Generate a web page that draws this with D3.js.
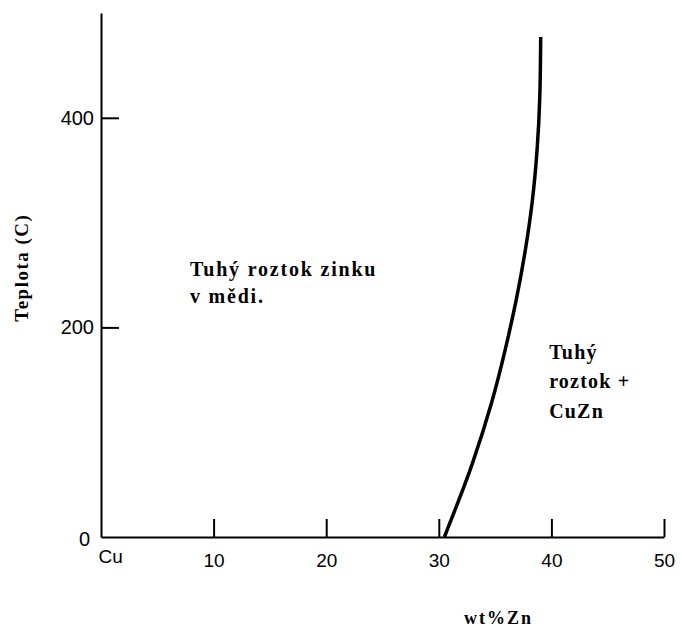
<!DOCTYPE html>
<html>
<head>
<meta charset="utf-8">
<script src="https://cdn.jsdelivr.net/npm/d3@7"></script>
<style>
  body { margin: 0; background: #fff; }
  svg { display: block; }
</style>
</head>
<body>
<div id="chart"></div>
<script>
// Data
const xTicks = [0, 10, 20, 30, 40, 50];
const xTickLabels = ['Cu', '10', '20', '30', '40', '50'];
const yTicks = [0, 200, 400];

// solvus line (wt% Zn, temperature C)
const solvusZn = [30.5, 31.7, 32.9, 34.8, 35.9, 36.9, 37.7, 38.35, 38.75, 39.0, 39.05];
const solvusT = [0, 33, 66, 130, 178, 226, 273, 321, 369, 417, 477];

const leftLabel = ['Tuhý roztok zinku', 'v mědi.'];
const rightLabel = ['Tuhý', 'roztok +', 'CuZn'];

const width = 682;
const height = 630;
const margin = { t: 13, r: 18, b: 93, l: 101 };

const serif = 'Liberation Serif, Times New Roman, serif';
const sans = 'Liberation Sans, Arial, sans-serif';

const svg = d3
  .select('#chart')
  .append('svg')
  .attr('width', width)
  .attr('height', height);

const x = d3.scaleLinear().domain([0, 50]).range([margin.l, width - margin.r]);
const y = d3.scaleLinear().domain([0, 500]).range([height - margin.b, margin.t]);

// axes
const xAxis = d3
  .axisBottom(x)
  .tickValues(xTicks)
  .tickSize(-18)
  .tickSizeOuter(0)
  .tickPadding(17)
  .tickFormat((d, i) => xTickLabels[i]);

svg
  .append('g')
  .attr('transform', `translate(0,${y(0)})`)
  .call(xAxis)
  .call((g) => g.select('.domain').attr('stroke-width', 2))
  .call((g) => g.selectAll('.tick line').attr('stroke-width', 2))
  .call((g) => g.selectAll('.tick text')
    .attr('font-family', sans)
    .attr('font-size', 19)
    .attr('fill', '#000'))
  .call((g) => g.selectAll('.tick').filter((d) => d === 0).select('line').remove())
  .call((g) => g.selectAll('.tick').filter((d) => d === 0).select('text')
    .attr('text-anchor', 'start')
    .attr('x', -3)
    .attr('y', 13));

const yAxis = d3
  .axisLeft(y)
  .tickValues(yTicks)
  .tickSize(-18)
  .tickSizeOuter(0)
  .tickPadding(7);

svg
  .append('g')
  .attr('transform', `translate(${x(0)},0)`)
  .call(yAxis)
  .call((g) => g.select('.domain').attr('stroke-width', 2))
  .call((g) => g.selectAll('.tick line').attr('stroke-width', 2))
  .call((g) => g.selectAll('.tick text')
    .attr('font-family', sans)
    .attr('font-size', 20)
    .attr('fill', '#000'))
  .call((g) => g.selectAll('.tick').filter((d) => d === 0).select('line').remove())
  .call((g) => g.selectAll('.tick').filter((d) => d === 0).select('text')
    .attr('x', -11)
    .attr('y', 2));

// solvus curve
const line = d3
  .line()
  .x((d) => x(d[0]))
  .y((d) => y(d[1]))
  .curve(d3.curveBasis);

svg
  .append('path')
  .datum(solvusZn.map((v, i) => [v, solvusT[i]]))
  .attr('d', line)
  .attr('fill', 'none')
  .attr('stroke', '#000')
  .attr('stroke-width', 3.5);

// axis titles
svg
  .append('text')
  .attr('transform', `translate(28,${y(257)}) rotate(-90)`)
  .attr('text-anchor', 'middle')
  .attr('font-family', serif)
  .attr('font-weight', 'bold')
  .attr('font-size', 19)
  .attr('letter-spacing', 1.5)
  .text('Teplota (C)');

svg
  .append('text')
  .attr('x', x(35.3))
  .attr('y', 624)
  .attr('text-anchor', 'middle')
  .attr('font-family', serif)
  .attr('font-weight', 'bold')
  .attr('font-size', 18)
  .attr('letter-spacing', 2)
  .text('wt%Zn');

// region labels
svg
  .append('g')
  .selectAll('text')
  .data(leftLabel)
  .join('text')
  .attr('x', x(7.9))
  .attr('y', (d, i) => y(249) + i * 27)
  .attr('font-family', serif)
  .attr('font-weight', 'bold')
  .attr('font-size', 20)
  .attr('letter-spacing', 1.8)
  .text((d) => d);

svg
  .append('g')
  .selectAll('text')
  .data(rightLabel)
  .join('text')
  .attr('x', x(39.8))
  .attr('y', (d, i) => y(170) + i * 29.5)
  .attr('font-family', serif)
  .attr('font-weight', 'bold')
  .attr('font-size', 20)
  .attr('letter-spacing', 1.2)
  .text((d) => d);
</script>
</body>
</html>
